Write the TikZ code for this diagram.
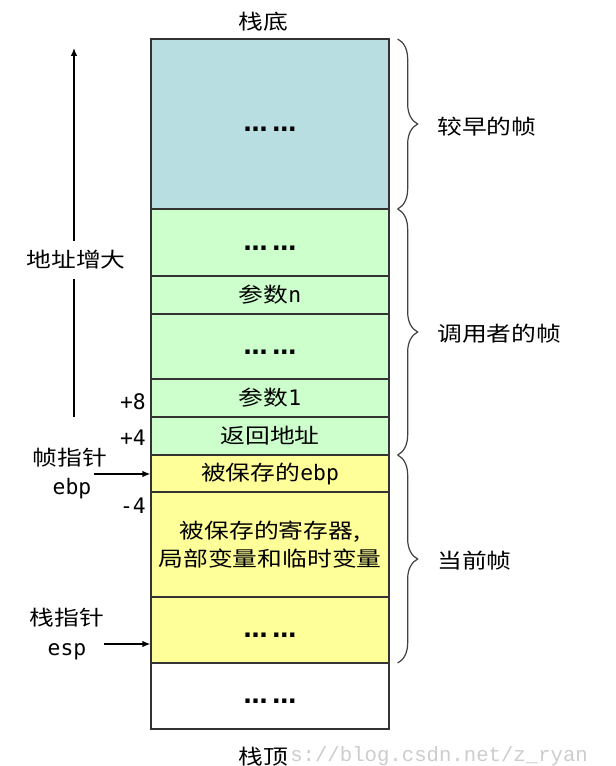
\documentclass[tikz,border=0pt]{standalone}
\usepackage{fontspec}
\newfontfamily\cjk[FakeStretch=1.2]{Noto Sans CJK SC}
\newfontfamily\monofam{DejaVu Sans Mono}
\newfontfamily\wmfont{Liberation Mono}
\newfontfamily\dotfamily{DejaVu Sans Bold}
\newcommand{\monotext}[1]{{\monofam\fontsize{16}{20}\selectfont #1}}
\newcommand{\stackdots}{\vphantom{参}{\dotfamily\fontsize{18}{20}\selectfont …\kern3.5pt…}}
\usetikzlibrary{decorations.pathreplacing,arrows.meta,calc}
\definecolor{oldblue}{RGB}{185,222,226}
\definecolor{callgreen}{RGB}{204,255,204}
\definecolor{curyellow}{RGB}{255,255,153}
\definecolor{wmgray}{RGB}{205,205,205}
\begin{document}
\begin{tikzpicture}[x=0.75pt,y=-0.75pt,
  cell/.style={draw=black!80, line width=1pt, minimum width=178.5pt, inner sep=0pt,
    font=\cjk\fontsize{15.5}{21}\selectfont, anchor=center},
  lbl/.style={font=\cjk\fontsize{15.5}{20}\selectfont, inner sep=0pt},
  off/.style={font=\monofam\fontsize{16}{20}\selectfont, inner sep=0pt, anchor=east},
  bracestyle/.style={decorate, decoration={brace, amplitude=15pt}, line width=0.9pt, draw=black!75},
  ptr/.style={-{Latex[length=6pt,width=5pt]}, line width=1pt}
]
\useasboundingbox (0,0) rectangle (615,766);
\fill[white] (0,0) rectangle (615,766);

% stack cells
\node[cell, fill=oldblue, minimum height=127.5pt] (r1) at (270,124) {\stackdots};
\node[cell, fill=callgreen, minimum height=50.25pt] (r2) at (270,242.5) {\stackdots};
\node[cell, fill=callgreen, minimum height=28.5pt] (r3) at (270,295) {参数\monotext{n}};
\node[cell, fill=callgreen, minimum height=48.75pt] (r4) at (270,346.5) {\stackdots};
\node[cell, fill=callgreen, minimum height=28.5pt] (r5) at (270,398) {参数\monotext{1}};
\node[cell, fill=callgreen, minimum height=28.5pt] (r6) at (270,436) {返回地址};
\node[cell, fill=curyellow, minimum height=27.75pt] (r7) at (270,473.5) {被保存的\monotext{ebp}};
\node[cell, fill=curyellow, minimum height=78.75pt, align=center] (r8) at (270,544.5) {被保存的寄存器,\\局部变量和临时变量};
\node[cell, fill=curyellow, minimum height=49.5pt] (r9) at (270,630) {\stackdots};
\node[cell, fill=white, minimum height=49.5pt] (r10) at (270,696) {\stackdots};

% top / bottom labels
\node[lbl] (bottomlbl) at (263,22) {栈底};
\node[font=\wmfont\fontsize{15.5}{18}\selectfont, text=wmgray, anchor=west, inner sep=0pt] (wm) at (290,756) {s://blog.csdn.net/z\_ryan};
\node[lbl] (toplbl) at (263,757) {栈顶};

% braces
\draw[bracestyle] ([xshift=6pt,yshift=-0.5pt]r1.north east) -- ([xshift=6pt,yshift=0.5pt]r1.south east);
\draw[bracestyle] ([xshift=6pt,yshift=-0.5pt]r2.north east) -- ([xshift=6pt,yshift=0.5pt]r6.south east);
\draw[bracestyle] ([xshift=6pt,yshift=-0.5pt]r7.north east) -- ([xshift=6pt,yshift=0.5pt]r9.south east);
\node[lbl, anchor=west] (f1) at (437,127) {较早的帧};
\node[lbl, anchor=west] (f2) at (437,334) {调用者的帧};
\node[lbl, anchor=west] (f3) at (437,561) {当前帧};

% address growth arrow
\node[lbl, inner ysep=7pt] (grow) at (76,260) {地址增大};
\coordinate (growbot) at (74,417);
\coordinate (growtop) at (74,48);
\draw[line width=1pt] (growbot) -- (growbot |- grow.south);
\draw[ptr] (growbot |- grow.north) -- (growtop);

% offsets
\node[off] (o8) at (146,402) {+8};
\node[off] (o4) at (146,438) {+4};
\node[off] (om4) at (146,506) {-4};

% frame pointer
\node[lbl] (fp) at (70,458) {帧指针};
\node[off, anchor=center] (ebp) at (72,489) {ebp};
\coordinate (fpstart) at (94,474);
\draw[ptr] (fpstart) -- (fpstart -| r7.west);

% stack pointer
\node[lbl] (sp) at (67,618) {栈指针};
\node[off, anchor=center] (esp) at (67,652) {esp};
\coordinate (spstart) at (104,644);
\draw[ptr] (spstart) -- (spstart -| r9.west);
\end{tikzpicture}
\end{document}
